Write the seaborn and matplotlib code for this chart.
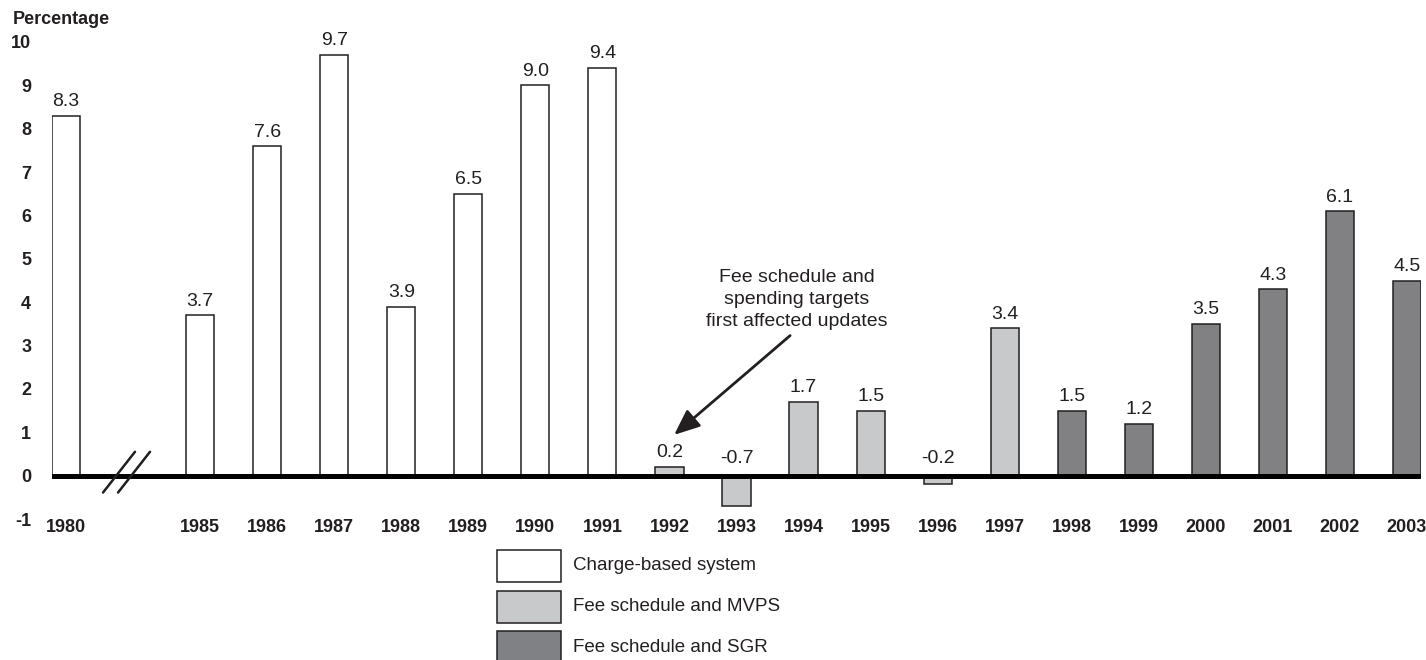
import numpy as np
import pandas as pd
import seaborn as sns
from matplotlib import pyplot as plt
from matplotlib.patches import Rectangle

# data
years = ["1980", " ", "1985", "1986", "1987", "1988", "1989", "1990", "1991",
         "1992", "1993", "1994", "1995", "1996", "1997",
         "1998", "1999", "2000", "2001", "2002", "2003"]
values = [8.3, np.nan, 3.7, 7.6, 9.7, 3.9, 6.5, 9.0, 9.4,
          0.2, -0.7, 1.7, 1.5, -0.2, 3.4,
          1.5, 1.2, 3.5, 4.3, 6.1, 4.5]
systems = (["Charge-based system"] * 9 + ["Fee schedule and MVPS"] * 6
           + ["Fee schedule and SGR"] * 6)
system_names = ["Charge-based system", "Fee schedule and MVPS", "Fee schedule and SGR"]
system_colors = ["#ffffff", "#c8c9cb", "#808184"]
y_ticks = list(range(-1, 11))
annot_text = "Fee schedule and\nspending targets\nfirst affected updates"

ink = "#231f20"
W, H = 1426, 660

sns.set_theme(style="white")
plt.rcParams['font.family'] = ['Liberation Sans', 'DejaVu Sans']
plt.rcParams['text.color'] = ink

df = pd.DataFrame({'year': years, 'value': values, 'system': systems})

fig = plt.figure(figsize=(W / 100, H / 100), dpi=100)
ax = fig.add_axes([52 / W, 141 / H, 1369 / W, 477 / H])

palette = dict(zip(system_names, system_colors))
sns.barplot(data=df, x='year', y='value', hue='system', order=years,
            hue_order=system_names, palette=palette, dodge=False, width=0.42,
            edgecolor=ink, linewidth=1.1, legend=False, ax=ax, zorder=2)

ax.set_xlim(-0.21, len(years) - 1 + 0.21)
ax.set_ylim(-1, 10)
for s in ax.spines.values():
    s.set_visible(False)
ax.set_xlabel("")
ax.set_ylabel("")
ax.set_yticks(y_ticks)
ax.set_yticklabels([str(t) for t in y_ticks])
ax.tick_params(axis='y', length=0, pad=15, labelsize=13, labelcolor=ink)
ax.tick_params(axis='x', length=0, pad=0, labelsize=13, labelcolor=ink)
for lab in ax.get_xticklabels() + ax.get_yticklabels():
    lab.set_fontweight('bold')
ax.grid(False)

# thick zero line
ax.axhline(0, color='black', lw=3.6, zorder=3)

# value labels
for i, v in enumerate(values):
    if np.isnan(v):
        continue
    ax.annotate(f"{v:.1f}", (i, max(v, 0)), xytext=(0, 4 if v > 0 else 6),
                textcoords='offset points', ha='center', va='bottom',
                fontsize=14, color=ink)

# axis break marks
for dx in (0.0, 0.224):
    ax.plot([0.551 + dx, 1.028 + dx], [-0.39, 0.55], color=ink, lw=1.8,
            zorder=4, clip_on=False)

# annotation with arrow
ax.text(10.9, 4.06, annot_text, ha='center', va='center', fontsize=14,
        color=ink, linespacing=1.38)
ax.annotate("", xy=(9.07, 0.94), xytext=(10.80, 3.23),
            arrowprops=dict(arrowstyle='-|>,head_length=1.3,head_width=0.55',
                            color=ink, lw=2.0, shrinkA=0, shrinkB=0))

fig.text(13 / W, 1 - 19 / H, "Percentage", fontsize=13, fontweight='bold',
         ha='left', va='center', color=ink)

# legend drawn as boxes in figure pixels
for k, (name, col) in enumerate(zip(system_names, system_colors)):
    top = 550 + 40.5 * k
    fig.patches.append(Rectangle((497 / W, 1 - (top + 32) / H), 64 / W, 32 / H,
                                 transform=fig.transFigure, facecolor=col,
                                 edgecolor=ink, linewidth=1.1))
    fig.text(573 / W, 1 - (top + 16) / H, name, fontsize=13.5, ha='left',
             va='center', color=ink)

fig.savefig("out.png", dpi=100)
